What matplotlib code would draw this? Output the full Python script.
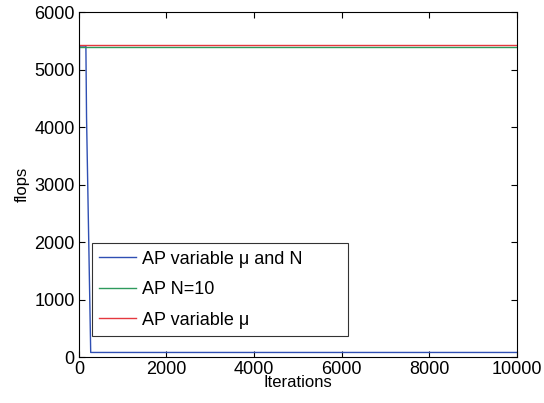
import matplotlib.pyplot as plt

plt.rcParams['font.family'] = ['Liberation Sans', 'DejaVu Sans']

# Data
it_var_mu_n = [0, 15, 160, 175, 270, 10000]
flops_var_mu_n = [700, 5410, 5410, 4170, 80, 80]

it_n10 = [0, 10000]
flops_n10 = [5400, 5400]

it_var_mu = [0, 10000]
flops_var_mu = [5430, 5430]

labels = ['AP variable \u03bc and N', 'AP N=10', 'AP variable \u03bc']
colors = ['#2f4fb3', '#2e9a5c', '#e5383f']

fig = plt.figure(figsize=(5.44, 4.03), dpi=100)
ax = fig.add_axes([0.145, 0.114, 0.805, 0.856])

ax.plot(it_var_mu_n, flops_var_mu_n, '-', color=colors[0], lw=1, label=labels[0])
ax.plot(it_n10, flops_n10, '-', color=colors[1], lw=1, label=labels[1])
ax.plot(it_var_mu, flops_var_mu, '-', color=colors[2], lw=1, label=labels[2])

ax.set_xlim(0, 10000)
ax.set_ylim(0, 6000)
ax.set_xticks(range(0, 10001, 2000))
ax.set_yticks(range(0, 6001, 1000))
ax.tick_params(direction='in', top=True, right=True, labelsize=13, length=4, pad=3)
for s in ax.spines.values():
    s.set_linewidth(0.8)

ax.set_xlabel('Iterations', fontsize=12, labelpad=-2)
ax.set_ylabel('flops', fontsize=12, labelpad=3)

leg = ax.legend(loc='lower left', bbox_to_anchor=(0.03, 0.061, 0.585, 0.275), mode='expand',
                fontsize=13, frameon=True, fancybox=False, edgecolor='black',
                handlelength=2.05, handletextpad=0.3, borderaxespad=0, labelspacing=0.75)
leg.get_frame().set_linewidth(0.8)

fig.savefig('out.png', dpi=100)
